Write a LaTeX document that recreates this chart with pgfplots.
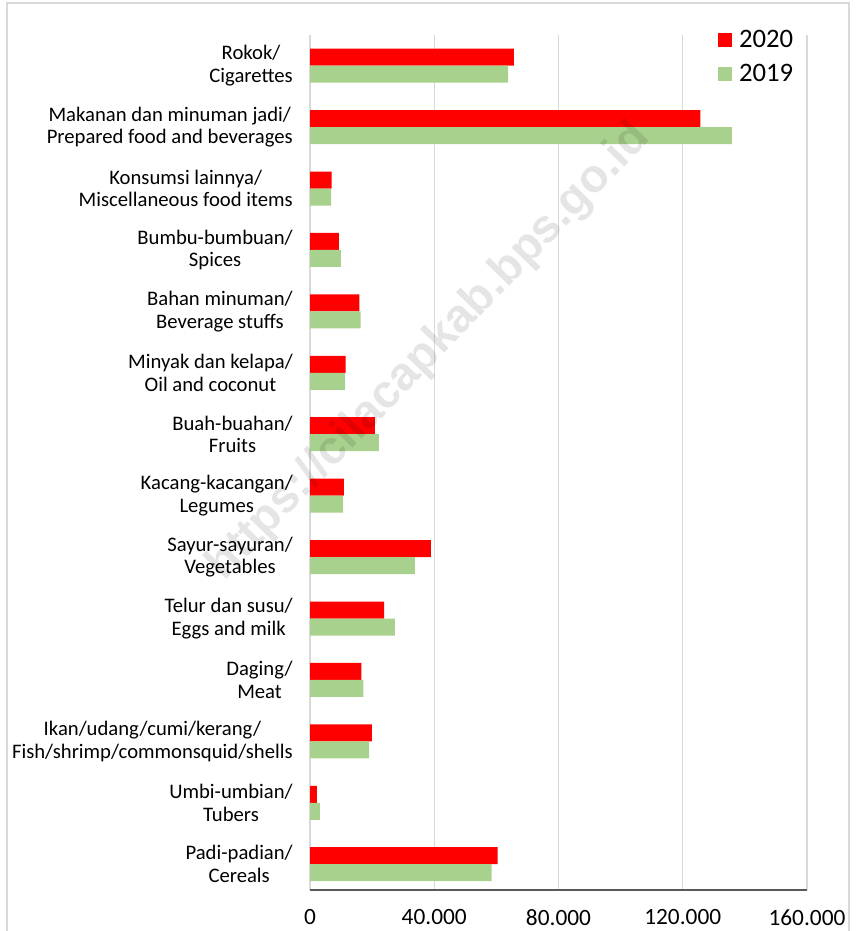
\documentclass[border=0pt]{standalone}
\usepackage{fontspec}
\setmainfont{Carlito}
\newfontfamily\wmfont{Liberation Sans}
\usepackage{pgfplots}
\pgfplotsset{compat=1.18}
\usepackage{pgfplotstable}

\definecolor{barred}{RGB}{255,0,0}
\definecolor{bargreen}{RGB}{169,209,142}
\definecolor{gridgray}{RGB}{217,217,217}
\definecolor{axisgray}{RGB}{89,89,89}

\pgfplotstableread{
idx v2020 v2019
0 60400 58500
1 2250 3200
2 19900 19000
3 16500 17200
4 23900 27300
5 38900 33800
6 10900 10700
7 20900 22200
8 11500 11300
9 15900 16300
10 9300 9900
11 7000 6800
12 125700 135800
13 65600 63800
}\datatable

\begin{document}
\begin{tikzpicture}
\useasboundingbox (0pt,0pt) rectangle (642.75pt,698.25pt);
\draw[gridgray, line width=1.2pt] (5.25pt,-2pt) -- (5.25pt,696pt) -- (636.75pt,696pt) -- (636.75pt,-2pt);
\begin{axis}[
  at={(232.5pt,30.75pt)}, anchor=south west,
  scale only axis, width=372.75pt, height=641.25pt,
  xbar, bar width=12.75pt,
  xmin=0, xmax=160000, ymin=-0.42, ymax=13.5,
  scaled x ticks=false,
  axis x line*=bottom, axis y line*=left,
  x axis line style={-, axisgray, line width=1.3pt},
  y axis line style={draw=none},
  xmajorgrids, grid style={gridgray, line width=1.1pt},
  major tick length=0pt,
  xtick={0,40000,80000,120000,160000},
  xticklabels={0,40.000,80.000,120.000,160.000},
  xticklabel style={font=\fontsize{17.5}{20}\selectfont, yshift=-11pt},
  ytick={0,...,13},
  yticklabels={
    {Padi-padian/\\Cereals},
    {Umbi-umbian/\\Tubers},
    {Ikan/udang/cumi/kerang/\\Fish/shrimp/commonsquid/shells},
    {Daging/\\Meat},
    {Telur dan susu/\\Eggs and milk},
    {Sayur-sayuran/\\Vegetables},
    {Kacang-kacangan/\\Legumes},
    {Buah-buahan/\\Fruits},
    {Minyak dan kelapa/\\Oil and coconut},
    {Bahan minuman/\\Beverage stuffs},
    {Bumbu-bumbuan/\\Spices},
    {Konsumsi lainnya/\\Miscellaneous food items},
    {Makanan dan minuman jadi/\\Prepared food and beverages},
    {Rokok/\\Cigarettes}},
  yticklabel style={align=center, font=\fontsize{15.5}{17}\selectfont},
  yticklabel shift=9.4pt,
  legend style={at={(0.813,1.0117)}, anchor=north west, draw=none, fill=none,
    font=\fontsize{20}{24}\selectfont, row sep=7pt,
    legend cell align=left},
  legend image code/.code={\fill[#1] (0pt,-5.25pt) rectangle (10.5pt,5.25pt); \path (13.5pt,0pt);},
]
\addplot[fill=barred, draw=none, bar shift=6.375pt] table[x=v2020, y=idx]{\datatable};
\addplot[fill=bargreen, draw=none, bar shift=-6.375pt] table[x=v2019, y=idx]{\datatable};
\legend{2020,2019}
\end{axis}
\node[rotate=46, font=\wmfont\bfseries\fontsize{35}{40}\selectfont, text=black, opacity=0.1] at (322pt,434.25pt) {https://cilacapkab.bps.go.id};
\end{tikzpicture}
\end{document}
